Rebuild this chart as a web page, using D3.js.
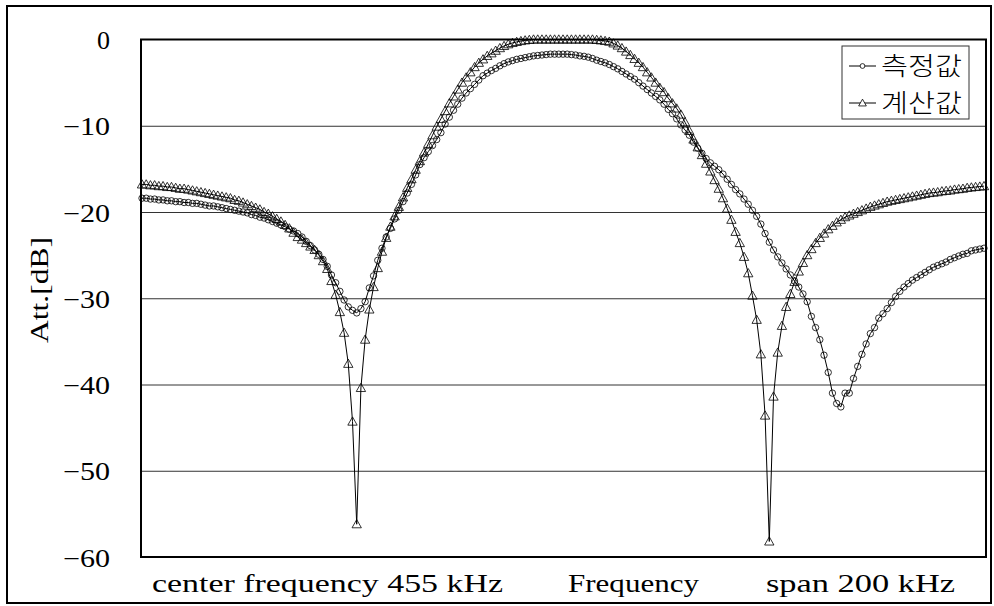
<!DOCTYPE html>
<html>
<head>
<meta charset="utf-8">
<script src="https://cdn.jsdelivr.net/npm/d3@7"></script>
<style>
  html, body { margin: 0; padding: 0; background: #fff; }
  svg { display: block; }
</style>
</head>
<body>
<svg id="chart" width="994" height="606"></svg>
<script>
// Filter response: attenuation in dB over a 200 kHz span centred on 455 kHz
const centerKHz = 455;
const spanKHz = 200;
const yTicks = [0, -10, -20, -30, -40, -50, -60];
const seriesNames = ["측정값", "계산값"];
const bottomTexts = ["center frequency 455 kHz", "Frequency", "span 200 kHz"];
const yTitle = "Att.[dB]";

// measured response (one sample per kHz)
const measured = [
  -18.4, -18.4, -18.5, -18.5, -18.6, -18.6, -18.7, -18.7, -18.8, -18.8,
  -18.9, -18.9, -19.0, -19.0, -19.1, -19.2, -19.3, -19.3, -19.4, -19.5,
  -19.6, -19.7, -19.8, -19.9, -20.0, -20.1, -20.3, -20.4, -20.6, -20.7,
  -20.9, -21.1, -21.3, -21.5, -21.7, -22.0, -22.2, -22.5, -22.9, -23.4,
  -23.9, -24.4, -24.9, -25.5, -26.3, -27.3, -28.2, -29.2, -30.2, -31.0,
  -31.4, -31.7, -31.2, -30.4, -28.8, -27.4, -25.6, -24.2, -22.9, -21.9,
  -20.8, -19.8, -18.8, -17.8, -16.8, -15.7, -14.5, -13.7, -13.0, -12.3,
  -11.6, -10.8, -9.8, -9.0, -8.2, -7.5, -6.8, -6.2, -5.7, -5.2,
  -4.7, -4.2, -3.9, -3.6, -3.35, -3.05, -2.8, -2.6, -2.45, -2.3,
  -2.2, -2.1, -2.0, -1.9, -1.85, -1.8, -1.75, -1.7, -1.7, -1.7,
  -1.7, -1.7, -1.75, -1.8, -1.9, -1.95, -2.05, -2.2, -2.4, -2.55,
  -2.7, -2.9, -3.15, -3.4, -3.7, -4.0, -4.3, -4.6, -5.0, -5.4,
  -5.8, -6.2, -6.6, -7.0, -7.5, -8.1, -8.6, -9.2, -9.9, -10.5,
  -11.1, -11.9, -12.6, -13.2, -13.8, -14.3, -14.7, -15.1, -15.6, -16.2,
  -16.8, -17.4, -17.9, -18.5, -19.1, -19.8, -20.5, -21.4, -22.5, -23.5,
  -24.4, -25.2, -25.9, -26.6, -27.3, -28.0, -28.7, -29.5, -30.4, -32.1,
  -33.4, -34.8, -36.6, -38.6, -41.0, -42.2, -42.6, -41.0, -41.0, -39.3,
  -37.9, -36.5, -35.3, -34.1, -33.4, -32.3, -31.8, -31.2, -30.5, -29.8,
  -29.2, -28.7, -28.3, -27.9, -27.6, -27.3, -27.0, -26.7, -26.4, -26.2,
  -26.0, -25.8, -25.5, -25.3, -25.1, -24.9, -24.8, -24.5, -24.4, -24.3,
  -24.2
];

// calculated response (one sample per kHz)
const calculated = [
  -16.8, -16.8, -16.9, -16.9, -17.0, -17.0, -17.1, -17.1, -17.2, -17.3,
  -17.3, -17.4, -17.5, -17.6, -17.7, -17.8, -17.9, -18.0, -18.1, -18.2,
  -18.3, -18.4, -18.6, -18.7, -18.9, -19.1, -19.3, -19.5, -19.7, -20.0,
  -20.2, -20.5, -20.8, -21.1, -21.5, -21.9, -22.4, -22.9, -23.2, -23.6,
  -24.0, -24.4, -25.0, -25.7, -26.6, -28.0, -29.6, -31.6, -34.0, -37.6,
  -44.3, -56.2, -40.4, -34.8, -31.3, -28.7, -26.5, -24.6, -23.0, -21.7,
  -20.5, -19.4, -18.3, -17.2, -16.2, -15.1, -14.1, -13.1, -12.1, -11.1,
  -10.1, -9.2, -8.3, -7.4, -6.6, -5.8, -5.0, -4.4, -3.8, -3.2,
  -2.7, -2.3, -1.9, -1.6, -1.3, -1.0, -0.75, -0.55, -0.4, -0.28,
  -0.18, -0.1, -0.05, 0.0, 0.0, 0.0, 0.0, 0.0, 0.0, 0.0,
  0.0, 0.0, 0.0, 0.0, 0.0, 0.0, 0.0, 0.0, -0.05, -0.1,
  -0.17, -0.25, -0.45, -0.7, -1.0, -1.4, -1.8, -2.25, -2.7, -3.2,
  -3.8, -4.4, -5.0, -5.6, -6.1, -6.8, -7.4, -8.0, -8.7, -9.6,
  -10.6, -11.6, -12.5, -13.4, -14.4, -15.3, -16.3, -17.3, -18.4, -19.6,
  -20.9, -22.3, -23.6, -25.2, -27.1, -29.7, -32.5, -36.5, -43.6, -58.2,
  -41.4, -36.3, -33.2, -31.0, -29.5, -28.1, -26.9, -25.9, -25.0, -24.3,
  -23.6, -23.0, -22.5, -22.0, -21.6, -21.2, -20.9, -20.6, -20.4, -20.2,
  -20.0, -19.8, -19.6, -19.4, -19.25, -19.1, -18.95, -18.8, -18.7, -18.6,
  -18.5, -18.4, -18.3, -18.2, -18.1, -18.0, -17.9, -17.8, -17.75, -17.7,
  -17.6, -17.55, -17.5, -17.4, -17.35, -17.3, -17.2, -17.15, -17.1, -17.05,
  -17.0
];

// frequency grid of the sweep (kHz)
const startKHz = centerKHz - spanKHz / 2;
const stepKHz = spanKHz / (measured.length - 1);
const freqKHz = measured.map((_, i) => startKHz + i * stepKHz);

const svg = d3.select("#chart");
const plot = { left: 141, right: 986, top: 39.5, bottom: 557 };

const x = d3.scaleLinear()
  .domain([startKHz, startKHz + spanKHz])
  .range([plot.left + 1, plot.right - 2]);
const y = d3.scaleLinear()
  .domain([-60, 0])
  .range([plot.bottom, plot.top]);

const serif = "'Liberation Serif', 'DejaVu Serif', serif";
const hangul = "'Noto Sans CJK KR', 'Noto Sans', sans-serif";

// outer frame
svg.append("rect")
  .attr("x", 7).attr("y", 6)
  .attr("width", 984).attr("height", 597)
  .attr("fill", "#fff")
  .attr("stroke", "#000").attr("stroke-width", 2);

// horizontal grid
const grid = svg.append("g")
  .attr("transform", `translate(${plot.left},0)`)
  .call(d3.axisLeft(y)
    .tickValues(yTicks.filter(t => t !== 0 && t !== -60))
    .tickSize(-(plot.right - plot.left))
    .tickFormat(""));
grid.select(".domain").remove();
grid.selectAll(".tick line").attr("stroke", "#333").attr("stroke-width", 1);

// y tick labels
const yAxis = svg.append("g")
  .attr("transform", `translate(${plot.left},0)`)
  .call(d3.axisLeft(y)
    .tickValues(yTicks)
    .tickSize(0)
    .tickPadding(31)
    .tickFormat(d => d === 0 ? "0" : "\u2212" + Math.abs(d)));
yAxis.select(".domain").remove();
yAxis.selectAll(".tick text")
  .attr("font-family", serif)
  .attr("font-size", 25)
  .attr("fill", "#000")
  .attr("dy", "0.36em")
  .attr("textLength", d => d === 0 ? 13 : 47)
  .attr("lengthAdjust", "spacingAndGlyphs");

// y title
svg.append("text")
  .attr("transform", "translate(48,290) rotate(-90)")
  .attr("text-anchor", "middle")
  .attr("font-family", serif)
  .attr("font-size", 25)
  .attr("textLength", 106)
  .attr("lengthAdjust", "spacingAndGlyphs")
  .text(yTitle);

// series lines
const line = d3.line()
  .x((d, i) => x(freqKHz[i]))
  .y(d => y(d));

const seriesG = svg.append("g");
[measured, calculated].forEach(values => {
  seriesG.append("path")
    .datum(values)
    .attr("d", line)
    .attr("fill", "none").attr("stroke", "#000").attr("stroke-width", 1);
});

// markers: open circles for measured, open triangles for calculated
const triPath = (s) => `M0,${-s * 0.55}L${s * 0.55},${s * 0.42}L${-s * 0.55},${s * 0.42}Z`;

seriesG.append("g").selectAll("circle")
  .data(measured)
  .join("circle")
  .attr("cx", (d, i) => x(freqKHz[i]))
  .attr("cy", d => y(d))
  .attr("r", 3.2)
  .attr("fill", "none")
  .attr("stroke", "#000")
  .attr("stroke-width", 0.8);

seriesG.append("g").selectAll("path")
  .data(calculated)
  .join("path")
  .attr("transform", (d, i) => `translate(${x(freqKHz[i])},${y(d)})`)
  .attr("d", triPath(8.5))
  .attr("fill", "none")
  .attr("stroke", "#000")
  .attr("stroke-width", 0.8);

// plot frame
svg.append("rect")
  .attr("x", plot.left).attr("y", plot.top)
  .attr("width", plot.right - plot.left)
  .attr("height", plot.bottom - plot.top)
  .attr("fill", "none")
  .attr("stroke", "#000").attr("stroke-width", 2);

// legend
const lg = svg.append("g").attr("transform", "translate(842,46)");
lg.append("rect")
  .attr("width", 127).attr("height", 73)
  .attr("fill", "#fff")
  .attr("stroke", "#333").attr("stroke-width", 1);
seriesNames.forEach((name, k) => {
  const cy = 20 + k * 37;
  lg.append("line")
    .attr("x1", 7).attr("x2", 34)
    .attr("y1", cy).attr("y2", cy)
    .attr("stroke", "#000").attr("stroke-width", 1);
  if (k === 0) {
    lg.append("circle").attr("cx", 20.5).attr("cy", cy).attr("r", 2.4)
      .attr("fill", "#fff").attr("stroke", "#000").attr("stroke-width", 0.8);
  } else {
    lg.append("path").attr("transform", `translate(20.5,${cy})`)
      .attr("d", triPath(7))
      .attr("fill", "#fff").attr("stroke", "#000").attr("stroke-width", 0.8);
  }
  lg.append("text")
    .attr("x", 39).attr("y", cy)
    .attr("dy", "0.36em")
    .attr("font-family", hangul)
    .attr("font-size", 25)
    .attr("font-weight", 300)
    .attr("textLength", 81)
    .attr("lengthAdjust", "spacingAndGlyphs")
    .text(name);
});

// annotations under the plot
const bottomPos = [
  { x: 152, w: 351 },
  { x: 568, w: 131 },
  { x: 766, w: 189 }
];
bottomTexts.forEach((t, k) => {
  svg.append("text")
    .attr("x", bottomPos[k].x).attr("y", 592)
    .attr("font-family", serif)
    .attr("font-size", 26)
    .attr("textLength", bottomPos[k].w)
    .attr("lengthAdjust", "spacingAndGlyphs")
    .text(t);
});
</script>
</body>
</html>
